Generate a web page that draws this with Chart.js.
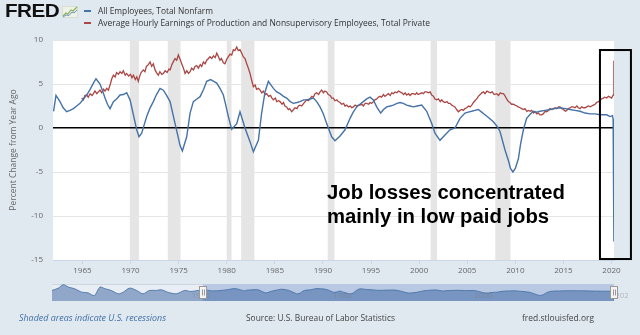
<!DOCTYPE html>
<html><head><meta charset="utf-8">
<script src="https://cdn.jsdelivr.net/npm/chart.js@4.4.0/dist/chart.umd.min.js"></script>
<style>
html,body{margin:0;padding:0;background:#e1e9f0;width:640px;height:335px;overflow:hidden;font-family:"Open Sans",sans-serif;}
#wrap{position:relative;width:640px;height:335px;}
canvas{position:absolute;}
.t{position:absolute;white-space:nowrap;transform-origin:0 0;}
.dash{position:absolute;width:7px;height:2px;}
</style></head><body>
<div id="wrap">
<canvas id="main" width="640" height="335" style="left:0;top:0"></canvas>
<canvas id="nav" width="640" height="30" style="left:0;top:278px"></canvas>
<div id="logo" class="t" style="left:5px;top:1px;font:bold 18px 'Liberation Sans';line-height:20px;color:#111;letter-spacing:-0.5px">FRED</div>
<svg style="position:absolute;left:62px;top:6px" width="16" height="12" viewBox="0 0 16 12">
<rect x="0.5" y="0.5" width="15" height="11" fill="#eef2e8" stroke="#d8dfd0" stroke-width="1"/>
<polyline points="1,10 4,7 6,8 9,4 11,5 15,1" fill="none" stroke="#8bb05a" stroke-width="1.2"/>
<polyline points="1,11 4,9 7,9.5 10,6 12,7 15,4" fill="none" stroke="#6b93c2" stroke-width="1"/>
</svg>
<div class="dash" style="left:84px;top:10px;background:#4572a7"></div>
<div id="leg1" class="t" style="left:98px;top:5px;font-size:9px;line-height:12px;color:#333"></div>
<div class="dash" style="left:84px;top:22px;background:#aa4643"></div>
<div id="leg2" class="t" style="left:98px;top:17px;font-size:9px;line-height:12px;color:#333"></div>
<div id="note" class="t" style="left:327px;top:180px;font:bold 20px 'Liberation Sans';line-height:24px;color:#000">Job losses concentrated<br>mainly in low paid jobs</div>
<div id="foot1" class="t" style="left:19px;top:312px;font-size:9px;line-height:12px;font-style:italic;color:#3f6ea6">Shaded areas indicate U.S. recessions</div>
<div id="foot2" class="t" style="left:246px;top:312px;font-size:9px;line-height:12px;color:#444">Source: U.S. Bureau of Labor Statistics</div>
<div id="foot3" class="t" style="left:522px;top:312px;font-size:9px;line-height:12px;color:#444">fred.stlouisfed.org</div>
</div>
<script>
// ---------------- data ----------------
const employmentLabel = 'All Employees, Total Nonfarm';
const earningsLabel = 'Average Hourly Earnings of Production and Nonsupervisory Employees, Total Private';

const empYears = [
1962.0,1962.25,1962.67,1963.0,1963.36,1963.7,1964.06,1964.4,1964.75,1965.1,
1965.44,1965.8,1966.14,1966.41,1966.83,1967.1,1967.35,1967.6,1967.87,1968.22,
1968.55,1968.91,1969.25,1969.6,1969.95,1970.3,1970.64,1970.88,1971.16,1971.4,
1971.68,1972.0,1972.37,1972.7,1973.07,1973.41,1973.75,1974.11,1974.63,1975.15,
1975.39,1975.84,1976.19,1976.53,1976.9,1977.23,1977.6,1977.92,1978.33,1978.65,
1978.96,1979.3,1979.65,1979.9,1980.17,1980.52,1981.04,1981.38,1981.9,1982.42,
1982.77,1983.29,1983.63,1983.98,1984.33,1984.85,1985.2,1985.54,1985.9,1986.23,
1986.6,1986.93,1987.3,1987.62,1988.0,1988.31,1988.65,1989.01,1989.35,1989.7,
1990.05,1990.39,1990.91,1991.26,1991.78,1992.3,1992.82,1993.15,1993.51,1993.85,
1994.2,1994.55,1994.9,1995.24,1995.59,1996.01,1996.3,1996.63,1997.0,1997.32,
1997.7,1998.02,1998.35,1998.71,1999.05,1999.4,1999.8,2000.27,2000.79,2001.31,
2001.65,2002.17,2002.69,2003.21,2003.73,2004.25,2004.77,2005.1,2005.47,2005.8,
2006.16,2006.5,2006.85,2007.3,2007.72,2008.1,2008.41,2008.93,2009.28,2009.5,
2009.75,2010.0,2010.32,2010.55,2010.84,2011.18,2011.5,2011.88,2012.2,2012.57,
2013.1,2013.61,2014.1,2014.65,2015.2,2015.69,2016.2,2016.73,2017.25,2017.77,
2018.3,2018.8,2019.15,2019.5,2019.85,2020.1,2020.17,2020.25];
const empValues = [
1.9,3.7,3.0,2.3,1.85,2.0,2.2,2.5,2.8,3.3,
3.75,4.4,5.1,5.6,5.0,4.2,3.4,2.7,2.2,3.0,
3.3,3.75,3.8,4.0,3.2,1.5,-0.2,-1.0,-0.6,0.3,
1.3,2.2,3.0,3.8,4.5,4.3,3.7,3.0,0.5,-2.0,
-2.6,-1.0,1.7,3.0,3.3,3.56,4.4,5.3,5.5,5.3,
5.1,4.5,3.75,2.6,1.3,-0.15,0.5,1.85,0.0,-1.55,
-2.7,-1.4,1.7,4.1,5.3,4.5,4.1,3.9,3.6,3.4,
3.0,2.8,2.9,3.0,3.2,3.2,3.3,3.4,3.0,2.4,
1.6,0.5,-1.0,-1.45,-0.9,-0.2,1.1,1.8,2.4,2.7,
3.0,3.3,3.5,3.2,2.4,1.7,2.1,2.4,2.5,2.6,
2.8,2.9,2.8,2.6,2.5,2.4,2.5,2.6,1.9,0.5,
-0.6,-1.4,-0.8,-0.2,0.0,1.1,1.7,1.8,1.9,2.0,
2.1,1.8,1.5,1.1,0.7,0.2,-0.4,-2.5,-3.7,-4.6,
-5.0,-4.6,-3.5,-1.8,-0.2,1.1,1.5,1.9,1.8,1.9,
2.0,2.1,2.2,2.3,2.2,2.1,2.0,1.9,1.7,1.6,
1.6,1.5,1.5,1.5,1.3,1.4,1.0,-12.9];

const aheYears = [
1964.92,1965.10,1965.25,1965.44,1965.60,1965.80,1966.00,1966.14,1966.30,1966.50,
1966.65,1966.83,1967.00,1967.20,1967.35,1967.52,1967.70,1967.90,1968.05,1968.22,
1968.40,1968.55,1968.75,1968.91,1969.10,1969.25,1969.45,1969.60,1969.80,1970.00,
1970.15,1970.30,1970.50,1970.65,1970.81,1970.95,1971.10,1971.33,1971.50,1971.65,
1971.85,1972.03,1972.20,1972.37,1972.55,1972.70,1972.89,1973.05,1973.25,1973.41,
1973.60,1973.80,1974.00,1974.11,1974.30,1974.48,1974.63,1974.80,1974.97,1975.15,
1975.32,1975.50,1975.67,1975.85,1976.03,1976.19,1976.35,1976.55,1976.70,1976.88,
1977.05,1977.25,1977.40,1977.57,1977.75,1977.92,1978.10,1978.26,1978.45,1978.62,
1978.80,1978.96,1979.10,1979.30,1979.45,1979.65,1979.82,1980.00,1980.17,1980.35,
1980.52,1980.69,1980.85,1981.04,1981.20,1981.38,1981.56,1981.72,1981.90,1982.08,
1982.25,1982.42,1982.60,1982.77,1982.95,1983.10,1983.30,1983.46,1983.65,1983.80,
1984.00,1984.15,1984.35,1984.55,1984.70,1984.85,1985.05,1985.20,1985.40,1985.54,
1985.75,1985.90,1986.05,1986.23,1986.40,1986.55,1986.75,1986.95,1987.10,1987.30,
1987.45,1987.62,1987.80,1988.00,1988.15,1988.31,1988.50,1988.70,1988.85,1989.00,
1989.18,1989.35,1989.55,1989.70,1989.87,1990.05,1990.20,1990.39,1990.55,1990.75,
1990.92,1991.08,1991.25,1991.45,1991.60,1991.78,1991.95,1992.15,1992.30,1992.47,
1992.65,1992.85,1993.00,1993.17,1993.35,1993.50,1993.70,1993.86,1994.05,1994.20,
1994.40,1994.55,1994.75,1994.90,1995.05,1995.24,1995.40,1995.60,1995.75,1995.94,
1996.10,1996.30,1996.45,1996.63,1996.80,1997.00,1997.15,1997.32,1997.50,1997.70,
1997.85,1998.02,1998.20,1998.40,1998.55,1998.71,1998.90,1999.05,1999.25,1999.40,
1999.60,1999.75,1999.90,2000.10,2000.30,2000.45,2000.60,2000.79,2000.95,2001.15,
2001.31,2001.50,2001.65,2001.83,2002.00,2002.20,2002.35,2002.52,2002.70,2002.90,
2003.05,2003.21,2003.40,2003.55,2003.73,2003.90,2004.08,2004.25,2004.45,2004.60,
2004.77,2004.95,2005.15,2005.30,2005.47,2005.65,2005.80,2005.99,2006.15,2006.35,
2006.51,2006.70,2006.85,2007.05,2007.20,2007.40,2007.60,2007.80,2008.07,2008.25,
2008.45,2008.60,2008.76,2008.90,2009.10,2009.28,2009.45,2009.60,2009.80,2009.97,
2010.15,2010.30,2010.50,2010.66,2010.85,2011.00,2011.20,2011.36,2011.55,2011.70,
2011.90,2012.05,2012.25,2012.40,2012.55,2012.74,2012.90,2013.10,2013.26,2013.45,
2013.60,2013.80,2013.96,2014.15,2014.30,2014.50,2014.65,2014.85,2015.00,2015.20,
2015.34,2015.50,2015.70,2015.85,2016.03,2016.20,2016.40,2016.55,2016.73,2016.90,
2017.10,2017.25,2017.42,2017.60,2017.80,2017.95,2018.11,2018.30,2018.45,2018.63,
2018.80,2018.95,2019.15,2019.30,2019.50,2019.67,2019.85,2020.02,2020.10,2020.19,
2020.25];
const aheValues = [
3.4,3.2,3.7,3.75,3.5,3.9,3.7,3.9,4.2,3.9,
4.1,4.3,4.0,4.4,4.2,4.5,4.3,5.0,5.6,6.0,
5.8,6.3,6.1,6.4,6.2,6.5,6.0,6.2,5.9,6.1,
5.7,6.0,5.5,5.8,5.3,5.9,6.3,6.6,6.4,7.0,
7.2,7.5,7.0,7.3,6.6,6.3,6.0,6.4,6.1,6.2,
6.5,6.3,6.7,6.6,7.2,7.6,7.9,7.7,8.3,7.8,
7.3,6.8,6.2,6.5,6.2,6.4,6.8,6.6,7.0,7.1,
6.8,7.2,7.0,7.5,7.3,7.7,7.9,8.1,7.9,8.2,
8.0,8.5,8.2,7.7,7.9,7.4,7.3,7.8,8.1,8.4,
8.3,8.9,8.8,9.2,8.8,8.9,8.5,8.1,7.9,7.3,
6.8,6.2,5.4,4.7,4.9,4.4,4.5,4.3,4.0,4.2,
3.8,3.9,3.6,3.7,3.4,3.2,3.4,3.0,3.1,3.0,
2.7,2.9,2.5,2.4,2.1,2.2,1.85,2.1,2.3,2.2,
2.5,2.6,2.5,2.8,3.0,3.2,3.1,3.4,3.6,3.5,
3.9,4.0,3.8,4.1,4.3,4.0,4.2,4.1,3.8,3.7,
3.4,3.4,3.1,3.2,3.0,2.9,2.7,2.8,2.5,2.6,
2.4,2.5,2.3,2.4,2.6,2.5,2.6,2.6,2.7,2.5,
2.8,2.8,2.7,2.9,2.8,3.0,3.2,3.3,3.5,3.6,
3.5,3.8,3.6,3.75,3.9,3.7,4.0,3.9,4.1,4.0,
4.2,4.1,4.0,3.8,4.0,3.75,3.9,3.7,3.9,3.9,
3.8,4.0,3.8,3.9,4.0,3.9,4.1,4.1,4.0,4.1,
3.75,3.6,3.3,3.2,3.3,3.0,3.2,3.0,2.9,3.0,
2.8,2.8,2.6,2.5,2.4,2.1,1.85,2.0,2.1,2.0,
2.2,2.3,2.5,2.4,2.6,2.9,3.1,3.3,3.6,3.8,
4.0,4.1,3.9,4.2,4.1,4.0,4.1,3.8,3.9,3.7,
4.0,3.9,3.9,3.7,3.3,3.0,2.9,2.7,2.7,2.6,
2.5,2.4,2.3,2.2,2.1,2.2,1.9,2.0,1.9,2.0,
1.7,1.85,1.6,1.7,1.5,1.5,1.6,1.9,1.85,2.0,
2.2,2.1,2.2,2.3,2.2,2.4,2.4,2.2,2.1,1.9,
2.0,2.2,2.3,2.4,2.4,2.3,2.5,2.3,2.2,2.4,
2.3,2.3,2.4,2.5,2.4,2.5,2.6,2.7,2.9,3.0,
3.1,3.3,3.4,3.5,3.4,3.6,3.5,3.4,3.6,3.75,
7.65];

// navigator: earlier part of the employment series shown only in the overview strip
const navEarlyYears = [1940.6,1941.5,1942.2,1942.9,1943.8,1944.8,1945.7,1946.6,1947.4,1948.1,1949.0,1950.0,1950.7,1951.6,1952.6,1953.5,1954.4,1955.4,1956.1,1957.0,1958.2,1959.4,1960.3,1961.3];
const navEarlyValues = [2.6,6.2,11.5,7.8,5.3,0,-1,-5.2,7.8,5.3,2.6,-2.5,0,6.2,2.6,-2.5,2.6,2.6,3.7,0,-2.5,2.6,1.0,2.6];
const navTickYears = [1960, 1980, 2000, 2020];
const navSelection = [1962, 2020.26];

const recessionStarts = [1969.92, 1973.87, 1980.0, 1981.5, 1990.5, 2001.2, 2007.92];
const recessionEnds   = [1970.87, 1975.2, 1980.5, 1982.87, 1991.2, 2001.87, 2009.5];

const xTickYears = [1965,1970,1975,1980,1985,1990,1995,2000,2005,2010,2015,2020];
const yTickValues = [-15,-10,-5,0,5,10];

const highlightBox = {xFrom: 2018.8, xTo: 2022.02, yTop: 8.86, yBottom: -14.89};

// ---------------- main chart ----------------
const toPoints = (xs, ys) => xs.map((x, i) => ({x: x, y: ys[i]}));

const decorPlugin = {
  id: 'fredDecor',
  beforeDraw(chart) {
    const {ctx, chartArea: a, scales: {x}} = chart;
    ctx.save();
    ctx.fillStyle = '#ffffff';
    ctx.fillRect(a.left, a.top, a.right - a.left, a.bottom - a.top);
    ctx.fillStyle = '#e5e5e5';
    recessionStarts.forEach((s, i) => {
      const x0 = x.getPixelForValue(s), x1 = x.getPixelForValue(recessionEnds[i]);
      ctx.fillRect(x0, a.top, x1 - x0, a.bottom - a.top);
    });
    ctx.restore();
  },
  afterDraw(chart) {
    const {ctx, scales: {x, y}} = chart;
    ctx.save();
    ctx.strokeStyle = '#000';
    ctx.lineWidth = 2;
    const x0 = x.getPixelForValue(highlightBox.xFrom), x1 = x.getPixelForValue(highlightBox.xTo);
    const y0 = y.getPixelForValue(highlightBox.yTop), y1 = y.getPixelForValue(highlightBox.yBottom);
    ctx.strokeRect(x0, y0, x1 - x0, y1 - y0);
    ctx.restore();
  }
};

new Chart(document.getElementById('main'), {
  type: 'line',
  data: {datasets: [
    {label: employmentLabel, data: toPoints(empYears, empValues), borderColor: '#4572a7', borderWidth: 1.4, pointRadius: 0, tension: 0, fill: false},
    {label: earningsLabel, data: toPoints(aheYears, aheValues), borderColor: '#aa4643', borderWidth: 1.3, pointRadius: 0, tension: 0, fill: false}
  ]},
  options: {
    responsive: false, animation: false, devicePixelRatio: 1,
    layout: {padding: {left: 0, right: 26, top: 40, bottom: 55}},
    plugins: {legend: {display: false}, tooltip: {enabled: false}},
    scales: {
      x: {
        type: 'linear', min: 1961.94, max: 2020.26,
        afterBuildTicks: s => { s.ticks = xTickYears.map(v => ({value: v})); },
        afterFit: s => { s.height = 20; },
        ticks: {autoSkip: false, maxRotation: 0, padding: 2, color: '#666', font: {family: 'Open Sans', size: 8}, callback: v => String(v)},
        grid: {drawOnChartArea: false, tickLength: 4, color: '#ccd6eb'},
        border: {color: '#ccd6eb'}
      },
      y: {
        min: -15, max: 10,
        afterBuildTicks: s => { s.ticks = yTickValues.map(v => ({value: v})); },
        afterFit: s => { s.width = 53; },
        ticks: {padding: 10, color: '#666', font: {family: 'Open Sans', size: 8}},
        grid: {drawTicks: false,
               color: c => (c.tick && c.tick.value === 0) ? '#000' : '#e6e6e6',
               lineWidth: c => (c.tick && c.tick.value === 0) ? 1.6 : 1},
        border: {display: false},
        title: {display: true, text: 'Percent Change from Year Ago', color: '#666', font: {family: 'Open Sans', size: 8.5}, padding: {top: 8, bottom: 0}}
      }
    }
  },
  plugins: [decorPlugin]
});

// ---------------- navigator ----------------
const navPlugin = {
  id: 'navDecor',
  beforeDraw(chart) {
    const {ctx, chartArea: a, scales: {x}} = chart;
    ctx.save();
    ctx.fillStyle = '#e9eef4';
    ctx.fillRect(a.left, a.top, a.right - a.left, a.bottom - a.top);
    const sx = x.getPixelForValue(navSelection[0]), ex = x.getPixelForValue(navSelection[1]);
    ctx.fillStyle = '#b9c9e3';
    ctx.fillRect(sx, a.top, ex - sx, a.bottom - a.top);
    ctx.strokeStyle = '#cfd6e0';
    ctx.lineWidth = 1;
    ctx.beginPath(); ctx.moveTo(a.left, a.top + 0.5); ctx.lineTo(sx, a.top + 0.5); ctx.stroke();
    ctx.restore();
  },
  afterDatasetsDraw(chart) {
    const {ctx, chartArea: a, scales: {x}} = chart;
    ctx.save();
    ctx.beginPath(); ctx.rect(0, 0, 628, 30); ctx.clip();
    ctx.fillStyle = 'rgba(120,120,120,0.45)';
    ctx.font = '8px "Open Sans"';
    ctx.textBaseline = 'middle';
    navTickYears.forEach(v => ctx.fillText(String(v), x.getPixelForValue(v) + 3, a.bottom - 5));
    ctx.restore();
  },
  afterDraw(chart) {
    const {ctx, chartArea: a, scales: {x}} = chart;
    ctx.save();
    navSelection.forEach(v => {
      const px = Math.round(x.getPixelForValue(v));
      const cy = (a.top + a.bottom) / 2;
      ctx.fillStyle = '#f4f4f4';
      ctx.strokeStyle = '#999';
      ctx.lineWidth = 1;
      ctx.fillRect(px - 3.5, cy - 6, 7, 12);
      ctx.strokeRect(px - 3.5, cy - 6, 7, 12);
      ctx.beginPath();
      ctx.moveTo(px - 0.5, cy - 3); ctx.lineTo(px - 0.5, cy + 3);
      ctx.moveTo(px + 1.5, cy - 3); ctx.lineTo(px + 1.5, cy + 3);
      ctx.stroke();
    });
    ctx.restore();
  }
};

new Chart(document.getElementById('nav'), {
  type: 'line',
  data: {datasets: [{
    label: employmentLabel,
    data: toPoints(navEarlyYears, navEarlyValues).concat(toPoints(empYears, empValues)),
    borderColor: 'rgba(69,114,167,0.85)', borderWidth: 1,
    backgroundColor: 'rgba(55,95,160,0.5)', fill: 'start',
    pointRadius: 0, tension: 0.3
  }]},
  options: {
    responsive: false, animation: false, devicePixelRatio: 1,
    layout: {padding: {left: 52, right: 26, top: 6, bottom: 7}},
    plugins: {legend: {display: false}, tooltip: {enabled: false}},
    scales: {
      x: {type: 'linear', min: 1940.6, max: 2020.26, display: false},
      y: {min: -13.5, max: 12.5, display: false}
    }
  },
  plugins: [navPlugin]
});

// ---------------- text ----------------
document.getElementById('leg1').textContent = employmentLabel;
document.getElementById('leg2').textContent = earningsLabel;
function fit(id, w) {
  const el = document.getElementById(id);
  el.style.transform = 'none';
  const r = el.getBoundingClientRect().width;
  if (r > 0) el.style.transform = 'scaleX(' + (w / r) + ')';
}
function fitAll() {
  fit('logo', 54); fit('leg1', 115); fit('leg2', 332);
  fit('foot1', 147); fit('foot2', 149); fit('foot3', 72);
  fit('note', 238);
}
fitAll();
if (document.fonts && document.fonts.ready) document.fonts.ready.then(fitAll);
</script>
</body></html>
